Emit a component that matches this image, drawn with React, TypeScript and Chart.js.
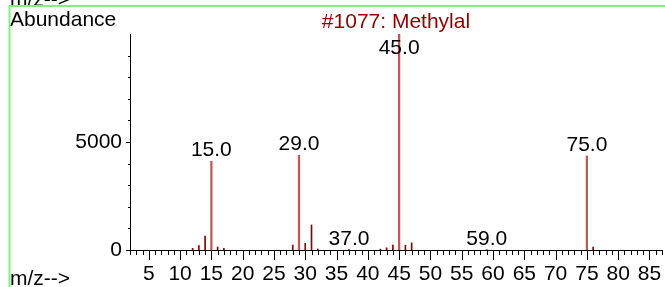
import { useEffect, useRef } from "react";
import { Chart, registerables } from "chart.js";

Chart.register(...registerables);

const FONT = "'Liberation Sans', Arial, Helvetica, sans-serif";

const mzValues = [12, 13, 14, 15, 16, 17, 28, 29, 30, 31, 32, 37, 42, 43, 44, 45, 46, 47, 59, 75, 76];
const abundances = [80, 200, 646, 4109, 138, 80, 230, 4386, 310, 1160, 46, 15, 40, 100, 230, 10000, 220, 330, 15, 4354, 140];
const labeledPeaks = [15, 29, 37, 45, 59, 75];
const xTickLabels = [5, 10, 15, 20, 25, 30, 35, 40, 45, 50, 55, 60, 65, 70, 75, 80, 85];
const xMinorTicks = Array.from({ length: 86 }, (_, i) => i + 2);
const yTickLabels = [0, 5000];
const yMinorTicks = [0, 1000, 2000, 3000, 4000, 5000, 6000, 7000, 8000, 9000];
const titleText = "#1077: Methylal";
const yAxisTitle = "Abundance";
const xAxisTitle = "m/z-->";

export default function App() {
  const ref = useRef<HTMLCanvasElement>(null);

  useEffect(() => {
    const canvas = ref.current!;
    const points = mzValues.map((m, i) => ({ x: m, y: abundances[i] }));
    const major = points.filter((p) => p.y >= 2000);
    const minor = points.filter((p) => p.y < 2000);

    const decor = {
      id: "decor",
      afterDraw(chart: any) {
        const ctx = chart.ctx as CanvasRenderingContext2D;
        const xs = chart.scales.x;
        const ys = chart.scales.y;
        const area = chart.chartArea;
        ctx.save();
        ctx.strokeStyle = "#000";
        ctx.lineWidth = 1;
        ctx.beginPath();
        for (const m of xMinorTicks) {
          const px = Math.round(xs.getPixelForValue(m)) + 0.5;
          if (px < area.left || px > area.right + 1) continue;
          const len = m % 5 === 0 ? 10 : 5;
          ctx.moveTo(px, area.bottom);
          ctx.lineTo(px, area.bottom + len);
        }
        for (const v of yMinorTicks) {
          const py = Math.round(ys.getPixelForValue(v)) + 0.5;
          const len = yTickLabels.includes(v) ? 4 : 2;
          ctx.moveTo(area.left - len, py);
          ctx.lineTo(area.left, py);
        }
        ctx.moveTo(area.left - 2, Math.round(area.bottom) + 0.5);
        ctx.lineTo(area.left, Math.round(area.bottom) + 0.5);
        ctx.stroke();

        ctx.font = `21px ${FONT}`;
        ctx.fillStyle = "#000";
        ctx.textAlign = "center";
        ctx.textBaseline = "alphabetic";
        for (const m of labeledPeaks) {
          const idx = mzValues.indexOf(m);
          const v = abundances[idx];
          const px = xs.getPixelForValue(m);
          const py = ys.getPixelForValue(v);
          const base = Math.max(py - 5, area.top + 20);
          ctx.fillText(m.toFixed(1), px, base);
        }

        ctx.fillStyle = "#8b0000";
        ctx.fillText(titleText, (area.left + area.right) / 2, 28);

        ctx.fillStyle = "#000";
        ctx.textAlign = "left";
        ctx.fillText(yAxisTitle, 10, 26);
        ctx.fillText(xAxisTitle, 10, 6);
        ctx.fillText(xAxisTitle, 10, 285);

        ctx.strokeStyle = "#80f080";
        ctx.lineWidth = 2;
        ctx.beginPath();
        ctx.moveTo(9, 6);
        ctx.lineTo(665, 6);
        ctx.moveTo(9.5, 5);
        ctx.lineTo(9.5, 287);
        ctx.stroke();
        ctx.restore();
      },
    };

    const chart = new Chart(canvas, {
      type: "bar",
      data: {
        datasets: [
          { data: major as any, backgroundColor: "#c05858", barThickness: 1.6, grouped: false } as any,
          { data: minor as any, backgroundColor: "#8b0000", barThickness: 1, grouped: false } as any,
        ],
      },
      options: {
        animation: false,
        responsive: false,
        maintainAspectRatio: false,
        devicePixelRatio: 1,
        layout: { padding: { top: 34, right: 3, left: 0, bottom: 0 } },
        plugins: {
          legend: { display: false },
          tooltip: { enabled: false },
          title: { display: false },
        },
        scales: {
          x: {
            type: "linear",
            min: 2,
            max: 87,
            offset: false,
            grid: { display: false, drawTicks: false },
            border: { display: true, color: "#000", width: 1 },
            afterBuildTicks: (s: any) => {
              s.ticks = xTickLabels.map((v) => ({ value: v }));
            },
            afterFit: (s: any) => {
              s.height = 37;
              s.paddingLeft = 0;
              s.paddingRight = 0;
            },
            ticks: {
              autoSkip: false,
              maxRotation: 0,
              padding: 12,
              color: "#000",
              font: { family: FONT, size: 21 },
              callback: (v: any) => String(v),
            },
          },
          y: {
            min: 0,
            max: 10000,
            grid: { display: false, drawTicks: false },
            border: { display: true, color: "#000", width: 1 },
            afterBuildTicks: (s: any) => {
              s.ticks = yTickLabels.map((v) => ({ value: v }));
            },
            afterFit: (s: any) => {
              s.width = 130;
              s.paddingTop = 0;
              s.paddingBottom = 0;
            },
            ticks: {
              padding: 8,
              color: "#000",
              font: { family: FONT, size: 21 },
              callback: (v: any) => String(v),
            },
          },
        },
      } as any,
      plugins: [decor],
    });
    return () => chart.destroy();
  }, []);

  return (
    <div style={{ position: "absolute", left: 0, top: 0, width: 665, height: 287, background: "#fff" }}>
      <canvas ref={ref} width={665} height={287} style={{ display: "block", width: 665, height: 287 }} />
    </div>
  );
}
